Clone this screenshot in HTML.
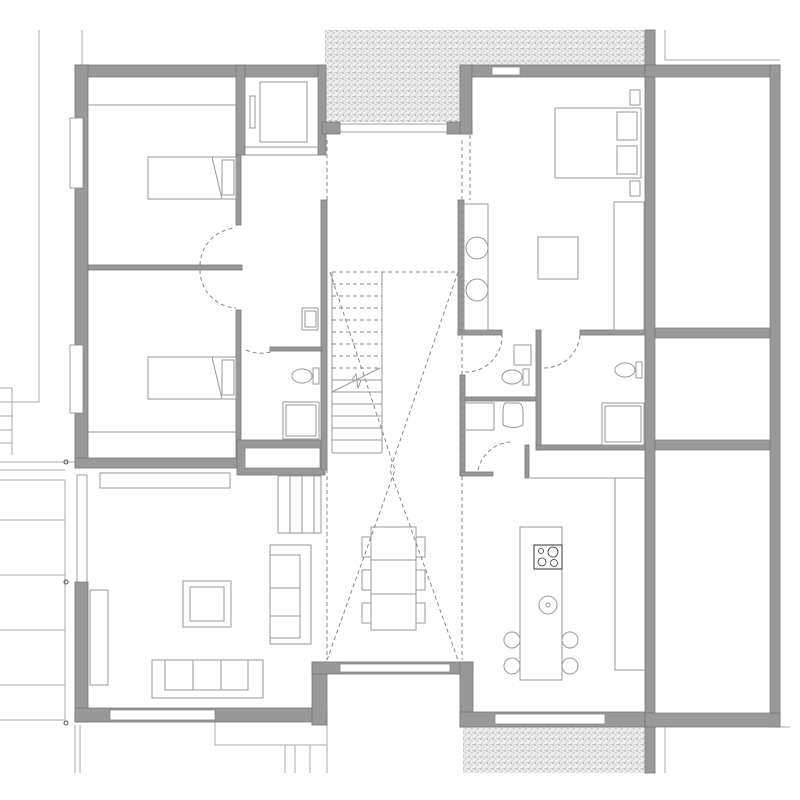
<!DOCTYPE html>
<html><head><meta charset="utf-8"><style>html,body{margin:0;padding:0;background:#fff}svg{display:block}</style></head>
<body>
<svg width="800" height="800" viewBox="0 0 800 800" xmlns="http://www.w3.org/2000/svg">
<defs>
<pattern id="sp" width="6" height="6" patternUnits="userSpaceOnUse">
<rect width="6" height="6" fill="#eee"/>
<circle cx="1" cy="1" r="0.6" fill="#666"/><circle cx="4" cy="3" r="0.5" fill="#777"/><circle cx="2" cy="5" r="0.5" fill="#888"/><circle cx="5" cy="0.5" r="0.4" fill="#555"/><circle cx="3" cy="2" r="0.4" fill="#999"/>
</pattern>
</defs>
<g fill="url(#sp)">
<rect x="325" y="30" width="135" height="92"/>
<rect x="460" y="30" width="185" height="35"/>
<rect x="463" y="727" width="182" height="46"/>
</g>
<g stroke="#aaa" stroke-width="1" fill="none">
<path d="M39 30V402H0M82 30V65M0 388H12V455M0 402H12M0 416H12M0 430H12M0 443H12"/>
<path d="M0 462H75M0 470H65M0 480H65V720H0M0 520H65M0 575H65M0 630H65M0 685H65"/>
<path d="M75 725V773M80 725V773M215 722V745H327M285 745V773M295 745V773M310 745V773M327 722V773"/>
<path d="M655 30V65M665 30V60H780M665 727V773M780 727H790"/>
</g>
<circle cx="66" cy="462" r="2" fill="none" stroke="#555"/><circle cx="66" cy="582" r="2" fill="none" stroke="#555"/><circle cx="66" cy="723" r="2" fill="none" stroke="#555"/>
<g fill="#999" stroke="#777" stroke-width="0.8">
<rect x="75" y="65" width="250" height="12"/>
<rect x="75" y="65" width="13" height="400"/>
<rect x="236" y="65" width="9" height="90"/>
<rect x="318" y="65" width="8" height="90"/>
<rect x="245" y="147" width="73" height="8" fill="#fff"/>
<rect x="322" y="122" width="18" height="12"/><rect x="447" y="122" width="25" height="12"/>
<rect x="460" y="65" width="185" height="12"/>
<rect x="460" y="65" width="12" height="69"/>
<rect x="645" y="30" width="10" height="743"/>
<rect x="645" y="65" width="135" height="12"/>
<rect x="770" y="65" width="10" height="662"/>
<rect x="655" y="328" width="115" height="10"/>
<rect x="655" y="440" width="115" height="10"/>
<rect x="645" y="713" width="135" height="14"/>
<rect x="236" y="155" width="5" height="70"/>
<rect x="88" y="265" width="154" height="5"/>
<rect x="236" y="310" width="5" height="148"/>
<rect x="75" y="458" width="165" height="10"/>
<rect x="237" y="440" width="88" height="35"/>
<rect x="321" y="200" width="6" height="270"/>
<rect x="270" y="347" width="52" height="4"/>
<rect x="458" y="200" width="6" height="135"/>
<rect x="458" y="330" width="44" height="5"/>
<rect x="536" y="330" width="5" height="120"/>
<rect x="580" y="330" width="65" height="5"/>
<rect x="460" y="397" width="76" height="4"/>
<rect x="460" y="375" width="5" height="100"/>
<rect x="460" y="472" width="33" height="4"/>
<rect x="525" y="445" width="4" height="33"/>
<rect x="536" y="445" width="109" height="5"/>
<rect x="75" y="582" width="13" height="140"/>
<rect x="75" y="708" width="252" height="14"/>
<rect x="312" y="662" width="15" height="63"/>
<rect x="312" y="662" width="161" height="12"/>
<rect x="460" y="662" width="13" height="65"/>
<rect x="460" y="712" width="185" height="15"/>
</g>
<g fill="#fff" stroke="#888" stroke-width="0.8">
<rect x="245" y="77" width="73" height="70"/>
<rect x="245" y="448" width="75" height="20"/>
<rect x="655" y="77" width="115" height="251"/>
<rect x="655" y="338" width="115" height="102"/>
<rect x="655" y="450" width="115" height="263"/>
<rect x="70" y="118" width="13" height="70"/><rect x="70" y="345" width="13" height="68"/>
<rect x="77" y="475" width="10" height="107"/>
<rect x="340" y="124" width="107" height="8"/>
<rect x="110" y="710" width="105" height="10"/>
<rect x="340" y="664" width="110" height="8"/>
<rect x="495" y="714" width="110" height="10"/>
<rect x="492" y="67" width="28" height="8"/>
</g>
<g fill="none" stroke="#999" stroke-width="1">
<path d="M88 105H236M88 432H236"/>
<rect x="148" y="157" width="88" height="42"/><rect x="222" y="160" width="12" height="35"/><path d="M212 157L222 199"/>
<rect x="148" y="357" width="88" height="42"/><rect x="222" y="360" width="12" height="35"/><path d="M212 357L222 399"/>
<rect x="260" y="82" width="47" height="60"/><rect x="250" y="96" width="5" height="32"/>
<rect x="283" y="402" width="36" height="37"/><rect x="286" y="405" width="30" height="31"/>
<path d="M302 308H318V330H302Z M305 311H316V327H305Z"/>
<ellipse cx="302" cy="376" rx="10" ry="7"/><rect x="313" y="368" width="6" height="16"/>
<rect x="555" y="108" width="86" height="70"/><rect x="617" y="112" width="20" height="28"/><rect x="617" y="146" width="20" height="28"/>
<rect x="630" y="90" width="10" height="15"/><rect x="630" y="181" width="10" height="15"/>
<rect x="538" y="237" width="40" height="42"/>
<rect x="614" y="202" width="30" height="128"/>
<rect x="464" y="204" width="24" height="126"/>
<circle cx="477" cy="248" r="11"/><circle cx="477" cy="290" r="11"/>
<rect x="514" y="345" width="17" height="20"/><ellipse cx="512" cy="377" rx="10" ry="7"/><rect x="523" y="369" width="6" height="16"/>
<ellipse cx="625" cy="370" rx="10" ry="7"/><rect x="636" y="362" width="6" height="16"/>
<rect x="602" y="403" width="42" height="42"/><rect x="605" y="406" width="36" height="36"/>
<rect x="464" y="403" width="30" height="27"/><path d="M506 403h12q5 0 5 10v12q-10 5-20 0v-12q0-10 3-10z"/>
<rect x="100" y="473" width="130" height="15"/>
<rect x="278" y="476" width="43" height="57"/><path d="M290 476V533M302 476V533M314 476V533"/>
<rect x="270" y="545" width="41" height="99"/><rect x="270" y="555" width="30" height="33"/><rect x="270" y="588" width="30" height="28"/><rect x="270" y="616" width="30" height="22"/>
<rect x="183" y="581" width="48" height="46"/><rect x="190" y="587" width="34" height="34"/>
<rect x="152" y="660" width="111" height="38"/><rect x="165" y="660" width="83" height="30"/><path d="M193 660V690M221 660V690"/>
<rect x="90" y="590" width="18" height="95"/>
<rect x="371" y="527" width="45" height="103"/><path d="M371 560H416M371 594H416"/>
<rect x="362" y="537" width="9" height="20"/><rect x="416" y="537" width="9" height="20"/>
<rect x="362" y="570" width="9" height="20"/><rect x="416" y="570" width="9" height="20"/>
<rect x="362" y="603" width="9" height="20"/><rect x="416" y="603" width="9" height="20"/>
<path d="M530 478H645M615 478V670H645"/>
<rect x="520" y="527" width="42" height="153"/>
<circle cx="548" cy="605" r="9"/><circle cx="548" cy="605" r="2"/>
<circle cx="512" cy="640" r="8"/><circle cx="570" cy="640" r="8"/><circle cx="512" cy="666" r="8"/><circle cx="570" cy="666" r="8"/>
</g>
<rect x="534" y="545" width="28" height="24" fill="none" stroke="#333"/>
<g fill="none" stroke="#333" stroke-width="0.8"><circle cx="541" cy="551" r="2.5"/><circle cx="553" cy="552" r="5"/><circle cx="542" cy="562" r="4"/><circle cx="554" cy="563" r="3.5"/></g>
<g stroke="#999" fill="none" stroke-width="1">
<path d="M332 272V453M382 272V453"/>
<path d="M332 380H382M332 392H382M332 404H382M332 416H382M332 428H382M332 440H382M332 453H382"/>
<path d="M332 392L380 368M352 380l4-6 2 14 3-8"/>
</g>
<g stroke="#888" fill="none" stroke-width="1" stroke-dasharray="4,3">
<path d="M332 284H382M332 296H382M332 308H382M332 320H382M332 332H382M332 344H382M332 356H382M332 368H382"/>
<path d="M332 272H460M327 140V660M462 140V660M470 135V200"/>
<path d="M330 272L395 470L327 660M458 272L390 470L458 660"/>
<path d="M200 265A38 38 0 0 1 236 228M200 270A38 38 0 0 0 236 308M246 350A38 38 0 0 0 282 347"/>
<path d="M465 372A36 36 0 0 0 502 335M544 368A36 36 0 0 0 580 335M478 470A36 36 0 0 1 510 442"/>
</g>
</svg>
</body></html>
